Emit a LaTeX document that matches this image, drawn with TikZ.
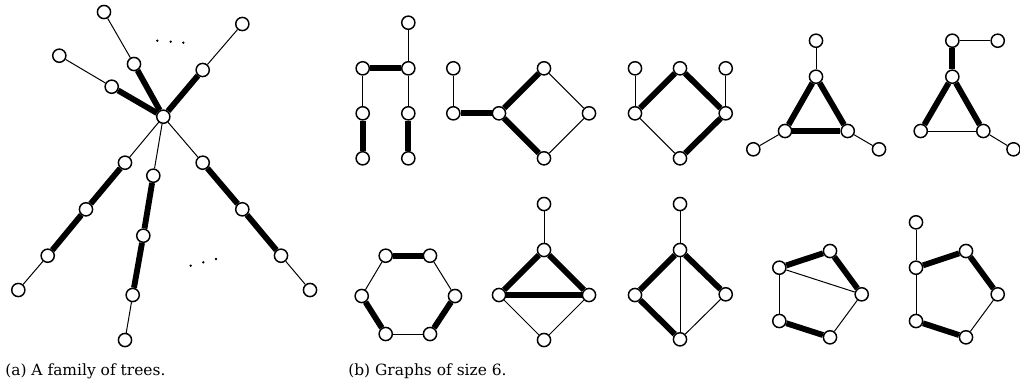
\documentclass[tikz,border=0pt]{standalone}
\usepackage{fontspec}
\setmainfont{DejaVu Serif}
\begin{document}
\begin{tikzpicture}[x=0.75pt,y=-0.75pt,
  v/.style={circle,draw,fill=white,line width=1.1pt,minimum size=9.9pt,inner sep=0pt},
  tn/.style={line width=0.75pt},
  tk/.style={line width=4.4pt},
  dotmark/.style={fill=black},
  captext/.style={anchor=base west,inner sep=0pt,font=\fontsize{11.6pt}{13pt}\selectfont}]
\useasboundingbox (0,0) rectangle (1020,383);
% ---------- (a) ----------
\node[v] (c) at (163.3,116.7) {};
\node[v] (a1) at (111.7,86.7) {}; \node[v] (a1l) at (59.3,55.7) {};
\node[v] (a2) at (134,64) {};     \node[v] (a2l) at (104,12) {};
\node[v] (a3) at (202.7,70) {};   \node[v] (a3l) at (242.3,24) {};
\node[v] (b1) at (125,162.7) {}; \node[v] (b2) at (86,209.3) {}; \node[v] (b3) at (47.7,255.7) {}; \node[v] (b4) at (18.3,290) {};
\node[v] (m1) at (153.3,175.7) {}; \node[v] (m2) at (143.3,235.7) {}; \node[v] (m3) at (132.7,295) {}; \node[v] (m4) at (125,340) {};
\node[v] (r1) at (202.7,162.7) {}; \node[v] (r2) at (242.3,209.3) {}; \node[v] (r3) at (281,255.7) {}; \node[v] (r4) at (310,290) {};
\draw[tk] (c)--(a1); \draw[tn] (a1)--(a1l);
\draw[tk] (c)--(a2); \draw[tn] (a2)--(a2l);
\draw[tk] (c)--(a3); \draw[tn] (a3)--(a3l);
\draw[tn] (c)--(b1); \draw[tk] (b1)--(b2); \draw[tk] (b2)--(b3); \draw[tn] (b3)--(b4);
\draw[tn] (c)--(m1); \draw[tk] (m1)--(m2); \draw[tk] (m2)--(m3); \draw[tn] (m3)--(m4);
\draw[tn] (c)--(r1); \draw[tk] (r1)--(r2); \draw[tk] (r2)--(r3); \draw[tn] (r3)--(r4);
\foreach \p in {(157.3,40.7),(170.7,41.7),(183.3,42.7),(190.7,265.7),(203.3,262.3),(216,259)}
  \fill[dotmark] \p circle (1.3);
\node[captext] (capa) at (5,375) {(a) A family of trees.};
% ---------- (b) top row ----------
% graph 1
\node[v] (g1t) at (408.3,22.7) {};
\node[v] (g1a) at (362.7,68.3) {}; \node[v] (g1b) at (408.3,68.3) {};
\node[v] (g1c) at (362.7,113.3) {}; \node[v] (g1d) at (408.3,113.3) {};
\node[v] (g1e) at (362.7,158.3) {}; \node[v] (g1f) at (408.3,158.3) {};
\draw[tn] (g1t)--(g1b); \draw[tk] (g1a)--(g1b);
\draw[tn] (g1a)--(g1c); \draw[tn] (g1b)--(g1d);
\draw[tk] (g1c)--(g1e); \draw[tk] (g1d)--(g1f);
% graph 2
\node[v] (g2l) at (453.3,68.3) {}; \node[v] (g2a) at (453.3,113.3) {};
\node[v] (g2b) at (499,113.3) {}; \node[v] (g2t) at (544,68.3) {};
\node[v] (g2r) at (589,113.3) {}; \node[v] (g2d) at (544,158.3) {};
\draw[tn] (g2l)--(g2a); \draw[tk] (g2a)--(g2b);
\draw[tk] (g2b)--(g2t); \draw[tk] (g2b)--(g2d);
\draw[tn] (g2t)--(g2r); \draw[tn] (g2r)--(g2d);
% graph 3
\node[v] (g3l) at (635,68.3) {}; \node[v] (g3a) at (635,113.3) {};
\node[v] (g3t) at (680,68.3) {}; \node[v] (g3d) at (680,158.3) {};
\node[v] (g3r) at (725.7,113.3) {}; \node[v] (g3rl) at (725.7,68.3) {};
\draw[tn] (g3l)--(g3a); \draw[tk] (g3a)--(g3t); \draw[tn] (g3a)--(g3d);
\draw[tk] (g3t)--(g3r); \draw[tk] (g3r)--(g3d); \draw[tn] (g3rl)--(g3r);
% graph 4
\node[v] (g4t) at (816,40.7) {}; \node[v] (g4a) at (816,76.7) {};
\node[v] (g4l) at (785,131) {}; \node[v] (g4r) at (847.7,131) {};
\node[v] (g4ll) at (753.3,149.3) {}; \node[v] (g4rl) at (879,149.3) {};
\draw[tn] (g4t)--(g4a); \draw[tk] (g4a)--(g4l); \draw[tk] (g4a)--(g4r);
\draw[tk] (g4l)--(g4r); \draw[tn] (g4l)--(g4ll); \draw[tn] (g4r)--(g4rl);
% graph 5
\node[v] (g5t) at (952.3,40.7) {}; \node[v] (g5tr) at (997.7,40.7) {};
\node[v] (g5a) at (952.3,76.7) {};
\node[v] (g5l) at (920.7,131) {}; \node[v] (g5r) at (983.3,131) {};
\node[v] (g5rl) at (1013.5,149.3) {};
\draw[tn] (g5t)--(g5tr); \draw[tk] (g5t)--(g5a);
\draw[tk] (g5a)--(g5l); \draw[tk] (g5a)--(g5r);
\draw[tn] (g5l)--(g5r); \draw[tn] (g5r)--(g5rl);
% ---------- (b) bottom row ----------
% hexagon
\node[v] (h1) at (385.7,255.7) {}; \node[v] (h2) at (430,255.7) {};
\node[v] (h3) at (455,296) {}; \node[v] (h4) at (430,334) {};
\node[v] (h5) at (385.7,334) {}; \node[v] (h6) at (361.7,296) {};
\draw[tk] (h1)--(h2); \draw[tn] (h2)--(h3); \draw[tk] (h3)--(h4);
\draw[tn] (h4)--(h5); \draw[tk] (h5)--(h6); \draw[tn] (h6)--(h1);
% graph 7
\node[v] (k7t) at (544,204) {}; \node[v] (k7a) at (544,250) {};
\node[v] (k7l) at (499,295) {}; \node[v] (k7r) at (589,295) {};
\node[v] (k7b) at (544,340) {};
\draw[tn] (k7t)--(k7a); \draw[tk] (k7a)--(k7l); \draw[tk] (k7a)--(k7r);
\draw[tk] (k7l)--(k7r); \draw[tn] (k7l)--(k7b); \draw[tn] (k7r)--(k7b);
% graph 8
\node[v] (k8t) at (680,204) {}; \node[v] (k8a) at (680,250) {};
\node[v] (k8l) at (635,295) {}; \node[v] (k8r) at (725.7,294.3) {};
\node[v] (k8b) at (680,339.3) {};
\draw[tn] (k8t)--(k8a); \draw[tk] (k8a)--(k8l); \draw[tk] (k8l)--(k8b);
\draw[tk] (k8a)--(k8r); \draw[tn] (k8r)--(k8b); \draw[tn] (k8a)--(k8b);
% graph 9
\node[v] (p9a) at (779.3,267.7) {}; \node[v] (p9b) at (830,251) {};
\node[v] (p9c) at (861.7,294.3) {}; \node[v] (p9d) at (830,337.3) {};
\node[v] (p9e) at (779.3,321) {};
\draw[tk] (p9a)--(p9b); \draw[tk] (p9b)--(p9c); \draw[tn] (p9a)--(p9c);
\draw[tn] (p9c)--(p9d); \draw[tk] (p9d)--(p9e); \draw[tn] (p9e)--(p9a);
% graph 10
\node[v] (q0t) at (916,222.3) {}; \node[v] (q0a) at (916,267.7) {};
\node[v] (q0b) at (966,251) {}; \node[v] (q0c) at (997.7,294.3) {};
\node[v] (q0d) at (966,337.3) {}; \node[v] (q0e) at (916,321) {};
\draw[tn] (q0t)--(q0a); \draw[tk] (q0a)--(q0b); \draw[tk] (q0b)--(q0c);
\draw[tn] (q0c)--(q0d); \draw[tk] (q0d)--(q0e); \draw[tn] (q0e)--(q0a);
\node[captext] (capb) at (348,375) {(b) Graphs of size 6.};
\end{tikzpicture}
\end{document}
